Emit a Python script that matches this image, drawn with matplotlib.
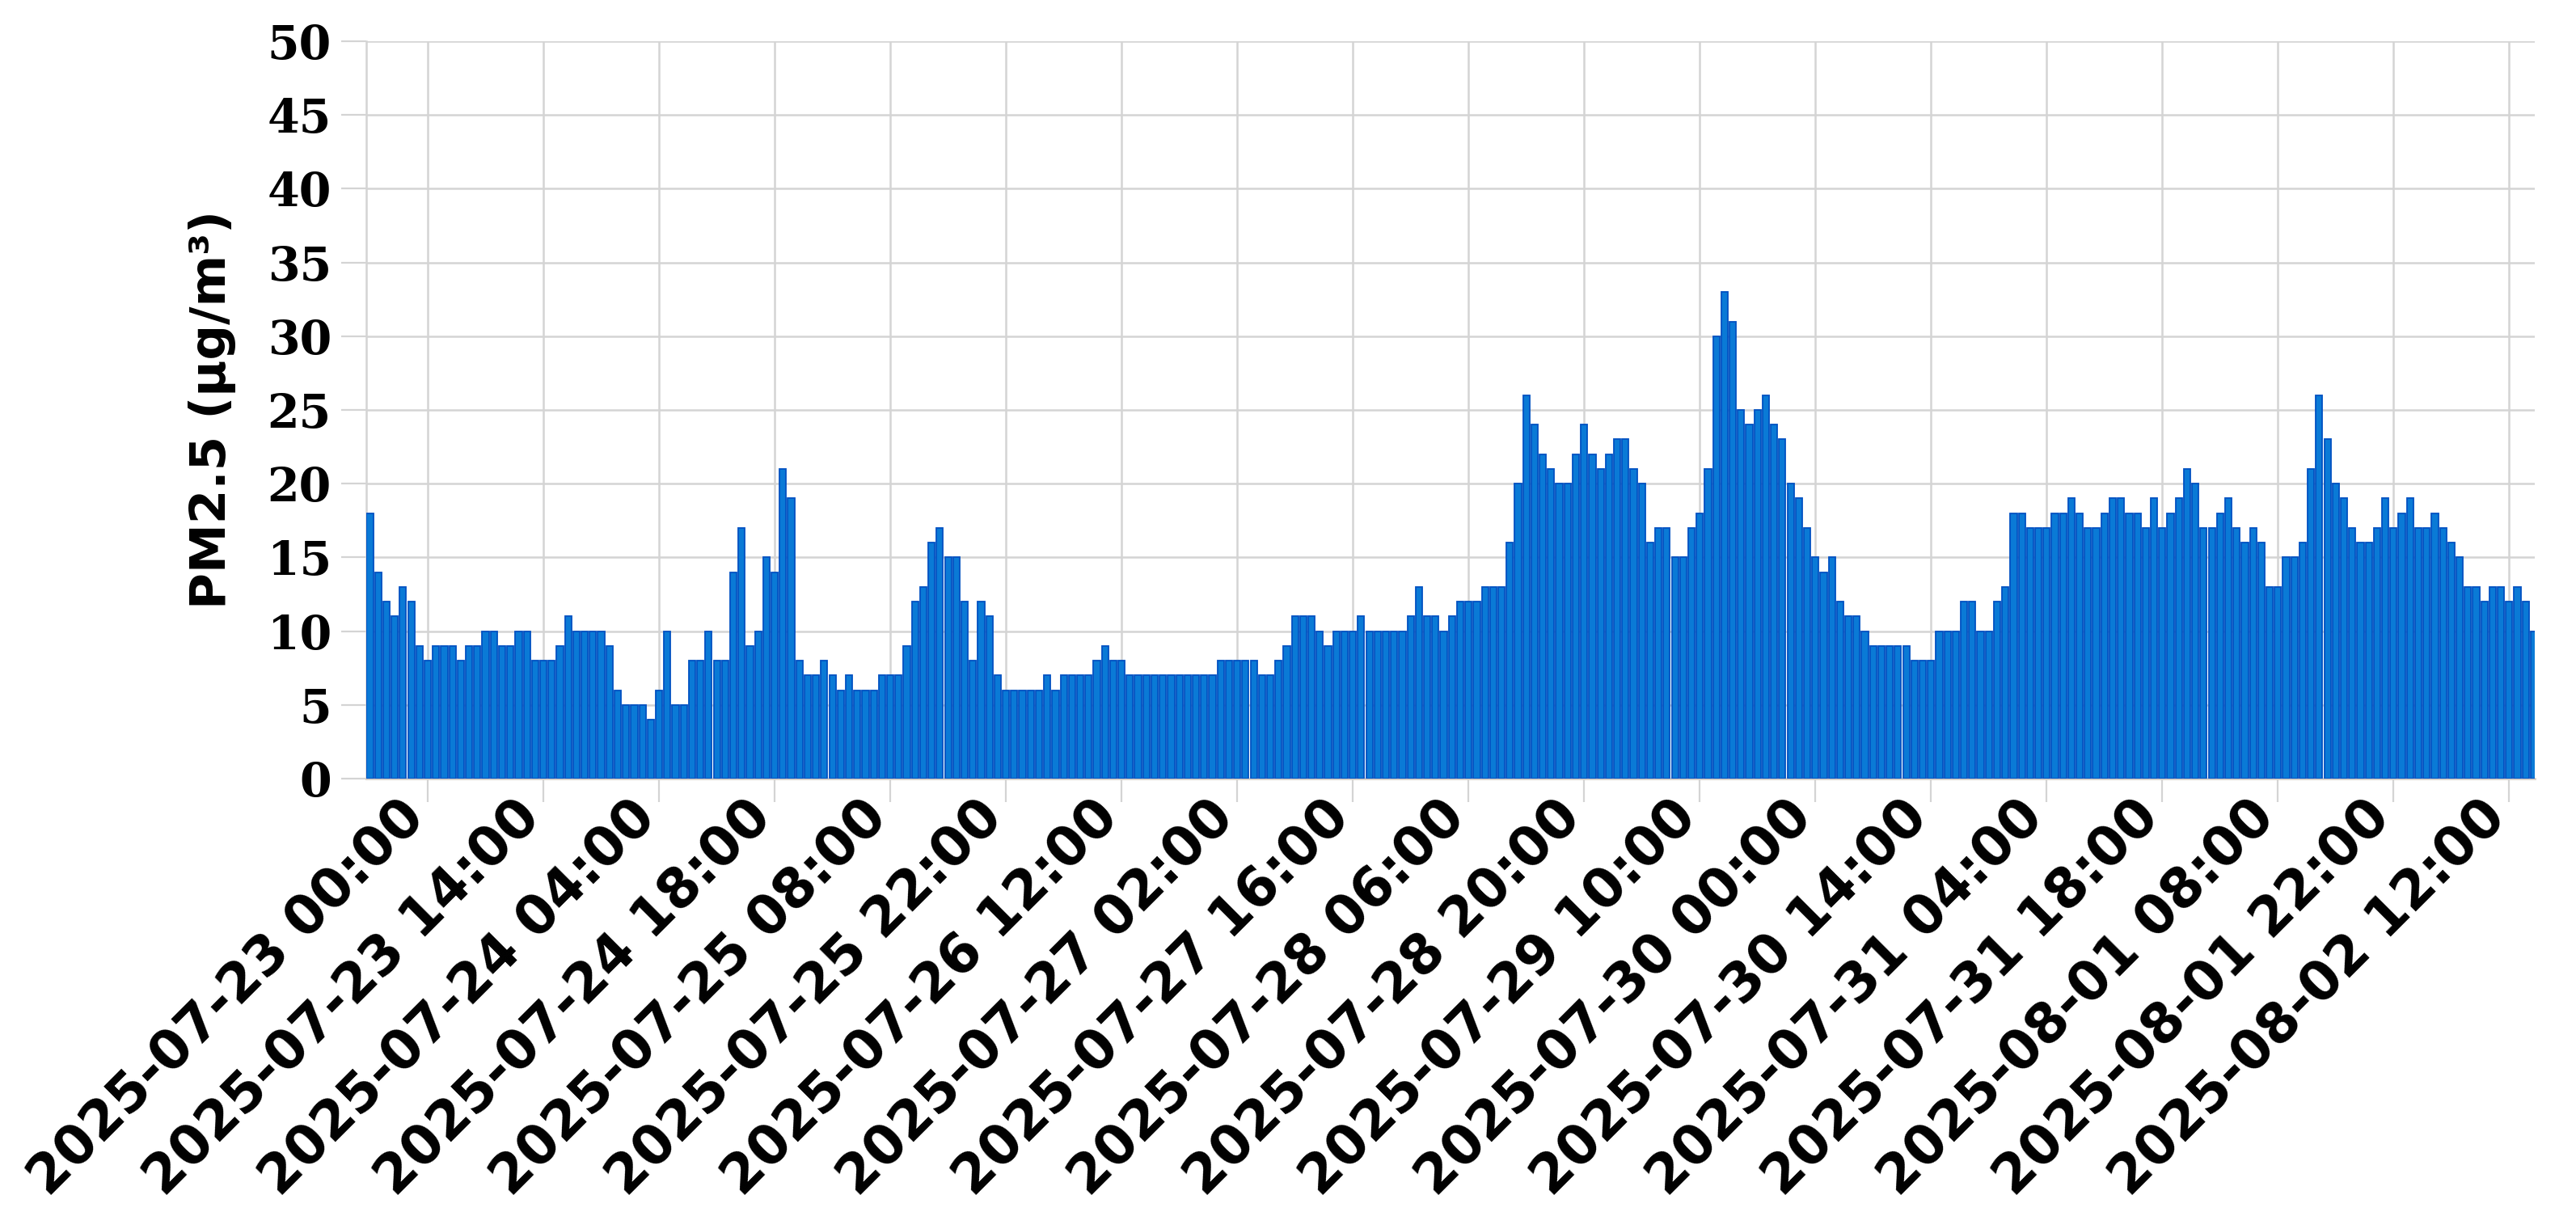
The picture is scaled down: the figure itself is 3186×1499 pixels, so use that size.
import numpy as np
import pandas as pd
import matplotlib
matplotlib.use('Agg')
import matplotlib.pyplot as plt
from matplotlib.transforms import ScaledTranslation, blended_transform_factory

# hourly PM2.5 readings, first bar = 2025-07-22 17:00
start = '2025-07-22 17:00'
pm25 = [18, 14, 12, 11, 13, 12, 9, 8, 9, 9, 9, 8, 9, 9, 10, 10, 9, 9, 10, 10,
        8, 8, 8, 9, 11, 10, 10, 10, 10, 9, 6, 5, 5, 5, 4, 6, 10,
        5, 5, 8, 8, 10, 8, 8, 14, 17, 9, 10, 15, 14, 21, 19, 8, 7, 7, 8, 7,
        6, 7, 6, 6, 6, 7, 7, 7, 9, 12, 13, 16, 17, 15, 15, 12, 8, 12, 11,
        7, 6, 6, 6, 6, 6, 7, 6, 7, 7, 7, 7, 8, 9, 8, 8, 7, 7, 7, 7,
        7, 7, 7, 7, 7, 7, 7, 8, 8, 8, 8, 8, 7, 7, 8, 9, 11, 11,
        11, 10, 9, 10, 10, 10, 11, 10, 10, 10, 10, 10, 11, 13, 11, 11, 10, 11, 12, 12,
        12, 13, 13, 13, 16, 20, 26, 24, 22, 21, 20, 20, 22, 24, 22, 21, 22, 23,
        23, 21, 20, 16, 17, 17, 15, 15, 17, 18, 21, 30, 33, 31, 25, 24, 25, 26, 24, 23,
        20, 19, 17, 15, 14, 15, 12, 11, 11, 10, 9, 9, 9, 9, 9, 8, 8, 8,
        10, 10, 10, 12, 12, 10, 10, 12, 13, 18, 18, 17, 17, 17, 18, 18, 19, 18, 17, 17,
        18, 19, 19, 18, 18, 17, 19, 17, 18, 19, 21, 20, 17, 17, 18, 19, 17, 16,
        17, 16, 13, 13, 15, 15, 16, 21, 26, 23, 20, 19, 17, 16, 16, 17, 19, 17, 18, 19,
        17, 17, 18, 17, 16, 15, 13, 13, 12, 13, 13, 12, 13, 12, 10]
hours = pd.date_range(start, periods=len(pm25), freq='h')

label_every = 14   # one label every 14 hours
first_label = 7    # 2025-07-23 00:00
yticks = list(range(0, 55, 5))

grid_col = '#d4d4d4'

fig = plt.figure(figsize=(31.86, 14.99), dpi=100)
ax = fig.add_axes([0.1422, 0.3576, 0.8418, 0.6084])

x = np.arange(len(pm25))
ax.bar(x, pm25, width=0.8, color='#0a7ad6', edgecolor='#0050c2', linewidth=1.3, zorder=3)

ax.set_xlim(-0.44, len(pm25) - 0.9)
ax.set_ylim(0, 50)

tick_idx = x[first_label::label_every]
ax.set_xticks(tick_idx)
ax.tick_params(axis='x', length=21, width=1.6, color=grid_col, labelbottom=False)

# rotated date labels, drawn by hand so they can sit just under the tick
trans = blended_transform_factory(ax.transData, ax.transAxes) + \
    ScaledTranslation(-0.38, -0.14, fig.dpi_scale_trans)
for i in tick_idx:
    ax.text(i, 0, hours[i].strftime('%Y-%m-%d %H:%M'), transform=trans,
            rotation=45, ha='right', va='top', rotation_mode='anchor',
            fontsize=48, fontweight='bold', family='DejaVu Sans', clip_on=False)

ax.set_yticks(yticks)
ax.set_yticklabels([str(v) for v in yticks], fontsize=41, fontweight='bold', family='DejaVu Serif')
ax.tick_params(axis='y', length=22, width=1.6, color=grid_col, pad=9)

ax.grid(True, color=grid_col, linewidth=1.8, zorder=0)
ax.set_axisbelow(True)
for side in ['top', 'right']:
    ax.spines[side].set_visible(False)
ax.spines['left'].set_color(grid_col)
ax.spines['left'].set_linewidth(1.8)
ax.spines['bottom'].set_color('#d6d0c8')
ax.spines['bottom'].set_linewidth(2)

ax.set_ylabel('PM2.5 (µg/m³)', fontsize=44, fontweight='bold', family='DejaVu Sans')
ax.yaxis.set_label_coords(-0.060, 0.5)

fig.savefig('out.png', dpi=100, facecolor='white')
